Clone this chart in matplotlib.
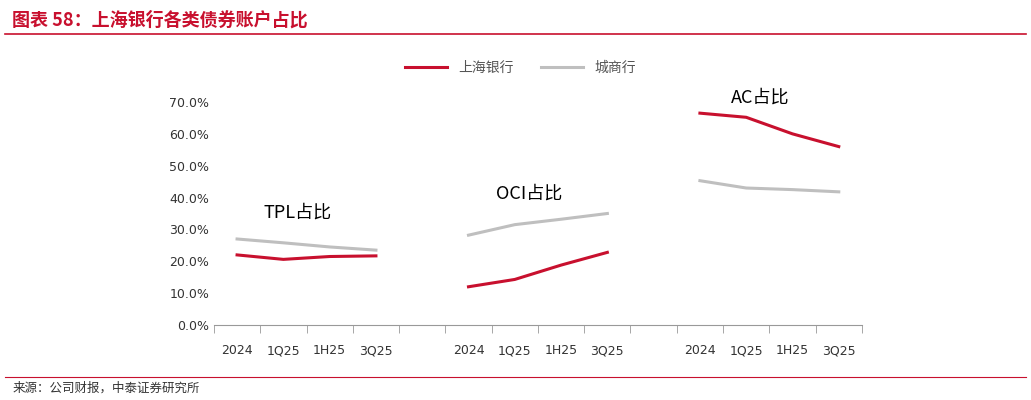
import matplotlib
matplotlib.use("Agg")
import matplotlib.pyplot as plt
from matplotlib.ticker import FuncFormatter, FixedLocator

plt.rcParams['font.family'] = ['Noto Sans CJK SC', 'DejaVu Sans']

periods = ["2024", "1Q25", "1H25", "3Q25"]
groups = ["TPL占比", "OCI占比", "AC占比"]
shanghai = [[22.0, 20.6, 21.5, 21.7],
            [12.0, 14.3, 18.8, 22.8],
            [66.5, 65.2, 60.0, 56.0]]
city = [[27.0, 25.8, 24.5, 23.5],
        [28.2, 31.5, 33.2, 35.0],
        [45.3, 43.0, 42.5, 41.8]]
label_y = [32.5, 38.5, 68.5]

RED = "#C8102E"
GRAY = "#BFBFBF"

fig = plt.figure(figsize=(10.31, 4.0), dpi=100)
ax = fig.add_axes([0.2075, 0.1875, 0.6285, 0.5575])

xt, xl = [], []
for g in range(3):
    xs = [g * 5 + i for i in range(4)]
    ax.plot(xs, shanghai[g], color=RED, lw=2.2, label="上海银行" if g == 0 else None)
    ax.plot(xs, city[g], color=GRAY, lw=2.2, label="城商行" if g == 0 else None)
    ax.text(xs[1] + 0.3, label_y[g], groups[g], fontsize=13, ha="center", va="bottom")
    xt += xs
    xl += periods

ax.set_xlim(-0.5, 13.5)
ax.set_ylim(0, 70)
ax.set_yticks(range(0, 71, 10))
ax.yaxis.set_major_formatter(FuncFormatter(lambda v, p: f"{v:.1f}%"))
ax.set_xticks(xt)
ax.set_xticklabels(xl, family="DejaVu Sans")
for t in ax.get_yticklabels():
    t.set_family("DejaVu Sans")
ax.xaxis.set_minor_locator(FixedLocator([i + 0.5 for i in range(-1, 14)]))
ax.tick_params(axis="x", which="major", length=0, pad=14, labelsize=9, colors="#333333")
ax.tick_params(axis="x", which="minor", length=6, color="#999999", direction="out")
ax.tick_params(axis="y", length=0, labelsize=9, colors="#333333", labelfontfamily="DejaVu Sans")
for s in ["top", "right", "left"]:
    ax.spines[s].set_visible(False)
ax.spines["bottom"].set_color("#999999")

fig.legend(loc="center", bbox_to_anchor=(0.505, 0.83), ncol=2, frameon=False,
           fontsize=10, handlelength=3, labelcolor="#555555")

fig.text(0.012, 0.95, "图表 58：上海银行各类债券账户占比", color=RED, fontsize=13,
         fontweight="bold", style="italic", va="center")
fig.add_artist(plt.Line2D([0.005, 0.995], [0.915, 0.915], color=RED, lw=1.2))
fig.add_artist(plt.Line2D([0.005, 0.995], [0.058, 0.058], color=RED, lw=0.8))
fig.text(0.012, 0.03, "来源：公司财报，中泰证券研究所", fontsize=9, va="center", color="#333333")

fig.savefig("out.png", dpi=100)
